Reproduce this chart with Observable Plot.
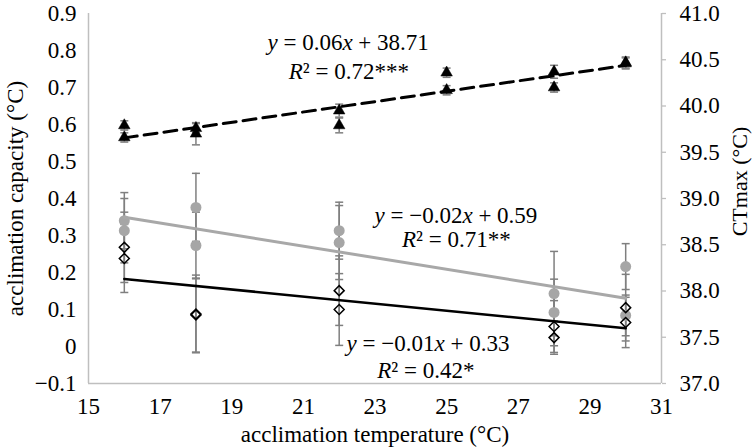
<!DOCTYPE html>
<html><head><meta charset="utf-8">
<script src="https://cdn.jsdelivr.net/npm/d3@7"></script>
<script src="https://cdn.jsdelivr.net/npm/@observablehq/plot@0.6"></script>
<style>
body{margin:0;background:#fff;}
</style>
</head><body><div id="chart"></div>
<script>
// ---- data ----
const xTicks = [15, 17, 19, 21, 23, 25, 27, 29, 31];
const leftTicks = [-0.1, 0, 0.1, 0.2, 0.3, 0.4, 0.5, 0.6, 0.7, 0.8, 0.9];
const rightTicks = [37.0, 37.5, 38.0, 38.5, 39.0, 39.5, 40.0, 40.5, 41.0];

// acclimation capacity, grey circles
const circleX   = [16, 16, 18, 18, 22, 22, 28, 28, 30, 30];
const circleY   = [0.340, 0.313, 0.376, 0.273, 0.313, 0.281, 0.143, 0.092, 0.216, 0.084];
const circleErr = [0.076, 0.087, 0.092, 0.090, 0.077, 0.100, 0.114, 0.090, 0.062, 0.055];

// acclimation capacity, open diamonds
const diamondX   = [16, 16, 18, 18, 22, 22, 28, 28, 30, 30];
const diamondY   = [0.268, 0.238, 0.088, 0.085, 0.151, 0.100, 0.054, 0.024, 0.105, 0.065];
const diamondErr = [0.095, 0.092, 0.105, 0.100, 0.094, 0.097, 0.070, 0.045, 0.090, 0.068];

// CTmax, black triangles (right axis)
const triangleX   = [16, 16, 18, 18, 22, 22, 25, 25, 28, 28, 30, 30];
const triangleY   = [39.79, 39.66, 39.76, 39.70, 39.95, 39.79, 40.36, 40.17, 40.37, 40.20, 40.47, 40.46];
const triangleErr = [0.05, 0.05, 0.05, 0.12, 0.07, 0.08, 0.05, 0.05, 0.07, 0.05, 0.06, 0.06];

// regression annotations
const eqText = ["y = 0.06x + 38.71", "R² = 0.72***", "y = −0.02x + 0.59", "R² = 0.71**", "y = −0.01x + 0.33", "R² = 0.42*"];
const eqX = [22.25, 22.27, 25.26, 25.27, 24.48, 24.42];
const eqY = [0.820, 0.744, 0.355, 0.288, 0.009, -0.064];

const xLabel = "acclimation temperature (°C)";
const yLabel = "acclimation capacity (°C)";
const y2Label = "CTmax (°C)";

// ---- helpers ----
const toLeft = v => (v - 37) / 4 - 0.1;       // CTmax -> left-axis units
const fromLeft = v => (v + 0.1) * 4 + 37;

const circles = circleX.map((x, i) => ({x, y: circleY[i], lo: circleY[i] - circleErr[i], hi: circleY[i] + circleErr[i]}));
const diamonds = diamondX.map((x, i) => ({x, y: diamondY[i], lo: diamondY[i] - diamondErr[i], hi: diamondY[i] + diamondErr[i]}));
const triangles = triangleX.map((x, i) => ({x, y: toLeft(triangleY[i]), lo: toLeft(triangleY[i] - triangleErr[i]), hi: toLeft(triangleY[i] + triangleErr[i])}));
const eqs = eqText.map((t, i) => ({t, x: eqX[i], y: eqY[i]}));

const capSymbol = {draw(ctx, size) { const r = Math.sqrt(size / Math.PI); ctx.moveTo(-r, 0); ctx.lineTo(r, 0); }};
const errGray = "#7f7f7f";
const axisGray = "#bfbfbf";
const errorMarks = data => [
  Plot.ruleX(data, {x: "x", y1: "lo", y2: "hi", stroke: errGray, strokeWidth: 1.5}),
  Plot.dot(data, {x: "x", y: "lo", symbol: capSymbol, r: 4, stroke: errGray, strokeWidth: 1.5}),
  Plot.dot(data, {x: "x", y: "hi", symbol: capSymbol, r: 4, stroke: errGray, strokeWidth: 1.5})
];

const font = "Liberation Serif";
const fs = 23;

const chart = Plot.plot({
  width: 753, height: 447,
  marginLeft: 88, marginRight: 92, marginTop: 13, marginBottom: 64,
  style: {fontFamily: font, fontSize: fs + "px", background: "#fff", color: "#000", overflow: "visible"},
  x: {domain: [15, 31]},
  y: {domain: [-0.1, 0.9]},
  marks: [
    Plot.axisX(xTicks, {tickSize: 0, tickPadding: 14, label: null, fontSize: fs, fontFamily: font}),
    Plot.axisY(leftTicks, {anchor: "left", tickSize: 0, tickPadding: 12, label: null, fontSize: fs, fontFamily: font,
      tickFormat: d => d === 0 ? "0" : d3.format(".1f")(d)}),
    Plot.axisY(rightTicks.map(toLeft), {anchor: "right", tickSize: 4, tickPadding: 14, label: null, fontSize: fs, fontFamily: font,
      stroke: axisGray, strokeWidth: 1.3, tickFormat: d => fromLeft(d).toFixed(1)}),
    Plot.ruleX([15], {stroke: axisGray, strokeWidth: 1.5}),
    Plot.ruleX([31], {stroke: axisGray, strokeWidth: 1.5}),
    Plot.ruleY([-0.1], {stroke: axisGray, strokeWidth: 1.5}),
    ...errorMarks(triangles),
    ...errorMarks(circles),
    ...errorMarks(diamonds),
    Plot.dot(circles, {x: "x", y: "y", r: 5.5, fill: "#a6a6a6", stroke: "none"}),
    Plot.dot(diamonds, {x: "x", y: "y", r: 4.5, symbol: "diamond2", fill: "none", stroke: "#000", strokeWidth: 1.5}),
    Plot.dot(triangles, {x: "x", y: "y", r: 4.3, symbol: "triangle", fill: "#000", stroke: "#000", strokeWidth: 0.5}),
    Plot.linearRegressionY(circles, {x: "x", y: "y", ci: 0, stroke: "#a8a8a8", strokeWidth: 3}),
    Plot.linearRegressionY(diamonds, {x: "x", y: "y", ci: 0, stroke: "#000", strokeWidth: 2.5}),
    Plot.linearRegressionY(triangles, {x: "x", y: "y", ci: 0, stroke: "#000", strokeWidth: 3, strokeDasharray: "13,7"}),
    Plot.text(eqs, {x: "x", y: "y", text: "t", fontSize: fs, fontFamily: font, className: "eq"}),
    Plot.text([xLabel], {frameAnchor: "bottom", textAnchor: "middle", lineAnchor: "middle", dy: 51, fontSize: fs, fontFamily: font}),
    Plot.text([yLabel], {frameAnchor: "left", textAnchor: "middle", lineAnchor: "middle", rotate: -90, dx: -73, dy: 0, fontSize: fs, fontFamily: font}),
    Plot.text([y2Label], {frameAnchor: "right", textAnchor: "middle", lineAnchor: "middle", rotate: -90, dx: 78, dy: -17, fontSize: 22, fontFamily: font})
  ]
});

// italicise the variables in the regression equations
chart.querySelectorAll("g.eq text").forEach(t => {
  const s = t.textContent;
  t.innerHTML = s.replace(/([yxR])/g, '<tspan font-style="italic">$1</tspan>');
});

document.getElementById("chart").appendChild(chart);
</script>
</body></html>
